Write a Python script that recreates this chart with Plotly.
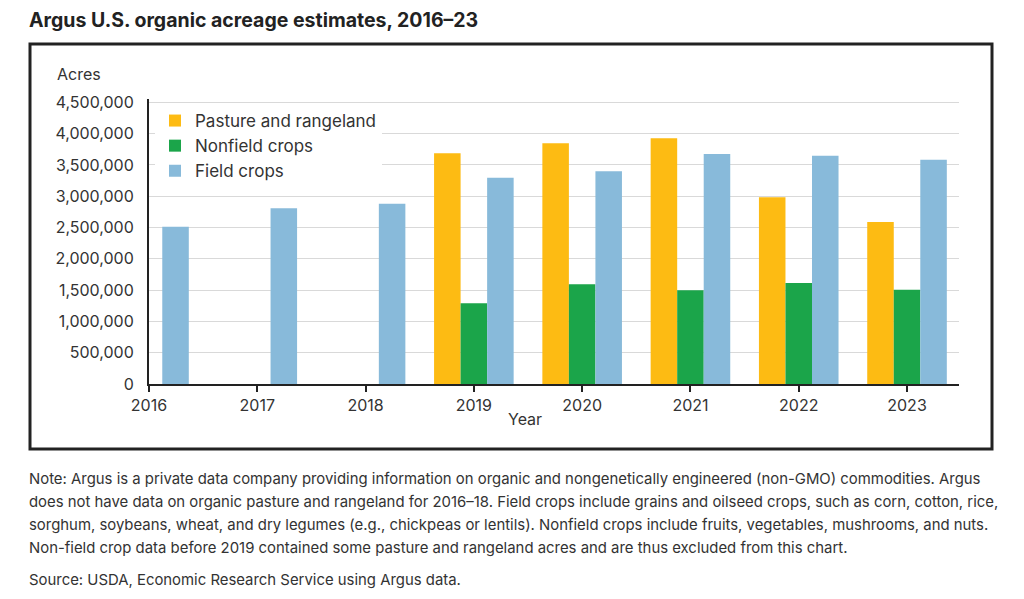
import plotly.graph_objects as go

# data
years = [2016, 2017, 2018, 2019, 2020, 2021, 2022, 2023]
pasture = [None, None, None, 3685000, 3845000, 3925000, 2982000, 2588000]
nonfield = [None, None, None, 1289000, 1592000, 1496000, 1613000, 1507000]
field = [2513000, 2806000, 2880000, 3296000, 3397000, 3674000, 3647000, 3583000]

series_names = ["Pasture and rangeland", "Nonfield crops", "Field crops"]
series_colors = ["#FDBB13", "#1BA54A", "#88BADA"]

y_ticks = [0, 500000, 1000000, 1500000, 2000000, 2500000, 3000000, 3500000, 4000000, 4500000]

title_text = "<b>Argus U.S. organic acreage estimates, 2016–23</b>"
note_lines = [
    "Note: Argus is a private data company providing information on organic and nongenetically engineered (non-GMO) commodities. Argus",
    "does not have data on organic pasture and rangeland for 2016–18. Field crops include grains and oilseed crops, such as corn, cotton, rice,",
    "sorghum, soybeans, wheat, and dry legumes (e.g., chickpeas or lentils). Nonfield crops include fruits, vegetables, mushrooms, and nuts.",
    "Non-field crop data before 2019 contained some pasture and rangeland acres and are thus excluded from this chart.",
]
source_text = "Source: USDA, Economic Research Service using Argus data."

W, H = 1024, 599
FONT = "Inter, Roboto, sans-serif"
TXT = "#333333"


def px_x(x):
    return x / W


def px_y(y):
    return 1 - y / H


fig = go.Figure()
for name, vals, col in zip(series_names, [pasture, nonfield, field], series_colors):
    fig.add_trace(go.Bar(x=years, y=vals, name=name, marker_color=col, marker_line_width=0))

fig.update_layout(
    width=W,
    height=H,
    margin=dict(l=0, r=0, t=0, b=0, autoexpand=False),
    paper_bgcolor="white",
    plot_bgcolor="white",
    barmode="group",
    bargap=0.265,
    bargroupgap=0,
    font=dict(family=FONT, color=TXT),
    showlegend=True,
    legend=dict(
        x=px_x(155), y=px_y(103), xanchor="left", yanchor="top",
        bgcolor="white", font=dict(size=17, color=TXT),
        tracegroupgap=0, itemclick=False,
    ),
    xaxis=dict(
        domain=[px_x(149), px_x(959)],
        range=[2016, 2023.48],
        automargin=False,
        tickmode="array",
        tickvals=years,
        ticktext=[str(y) for y in years],
        ticks="outside", ticklen=6, tickwidth=1.5, tickcolor="#222",
        showline=True, linecolor="#222", linewidth=2,
        showgrid=False, zeroline=False,
        tickfont=dict(size=16, color=TXT),
    ),
    yaxis=dict(
        domain=[px_y(384), px_y(99.2)],
        range=[0, 4550000],
        automargin=False,
        tickmode="array",
        tickvals=y_ticks,
        tickformat=",d",
        showline=True, linecolor="#222", linewidth=2,
        showgrid=True, gridcolor="#D9D9D9", gridwidth=1,
        zeroline=False,
        ticklabelstandoff=10,
        tickfont=dict(size=16, color=TXT),
    ),
)

# frame around the chart area
fig.add_shape(
    type="rect", xref="paper", yref="paper",
    x0=px_x(30), x1=px_x(992), y0=px_y(449), y1=px_y(44),
    line=dict(color="#222222", width=3), fillcolor="rgba(0,0,0,0)",
)

fig.add_annotation(
    text=title_text, xref="paper", yref="paper", x=px_x(27), y=px_y(20),
    xanchor="left", yanchor="middle", showarrow=False,
    font=dict(size=19.5, color="#222222"),
)
fig.add_annotation(
    text="Acres", xref="paper", yref="paper", x=px_x(55), y=px_y(74),
    xanchor="left", yanchor="middle", showarrow=False,
    font=dict(size=16, color=TXT),
)
fig.add_annotation(
    text="Year", xref="paper", yref="paper", x=px_x(525), y=px_y(419),
    xanchor="center", yanchor="middle", showarrow=False,
    font=dict(size=16, color=TXT),
)

for i, line in enumerate(note_lines):
    fig.add_annotation(
        text=line, xref="paper", yref="paper", x=px_x(27), y=px_y(479 + 23 * i),
        xanchor="left", yanchor="middle", showarrow=False,
        font=dict(size=14.9, color=TXT),
    )
fig.add_annotation(
    text=source_text, xref="paper", yref="paper", x=px_x(27), y=px_y(580),
    xanchor="left", yanchor="middle", showarrow=False,
    font=dict(size=14.9, color=TXT),
)

fig.write_html(
    "out.html",
    config={"displayModeBar": False},
    post_script="document.body.style.margin='0px';document.body.style.overflow='hidden';",
)
